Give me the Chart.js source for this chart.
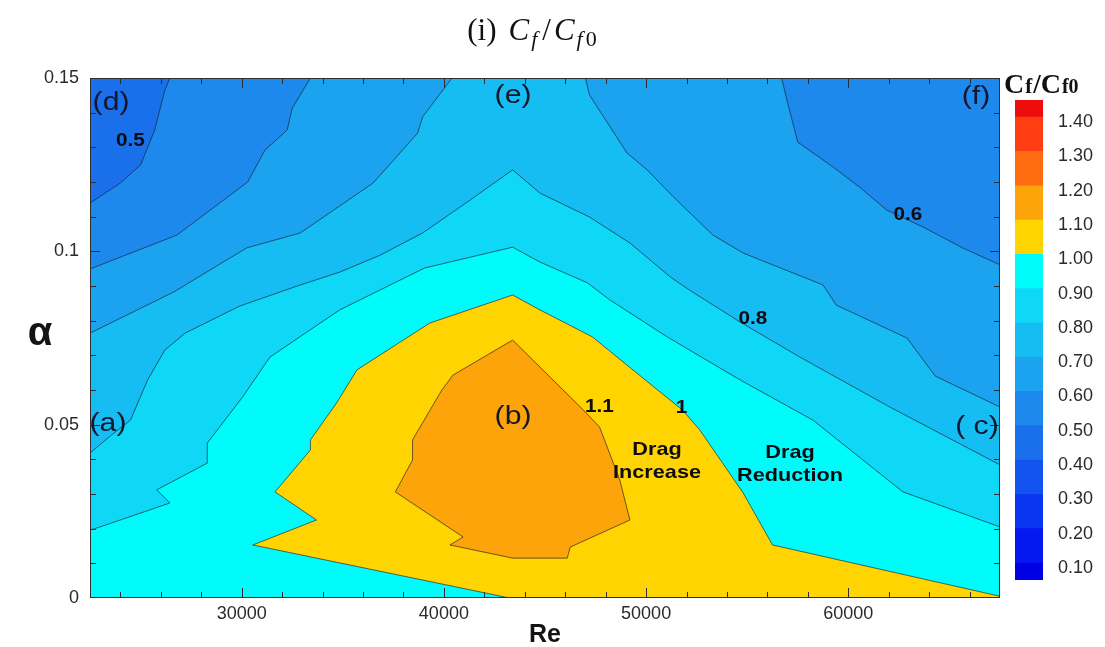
<!DOCTYPE html>
<html>
<head>
<meta charset="utf-8">
<title>Cf/Cf0 contour map</title>
<script src="https://cdn.jsdelivr.net/npm/chart.js@4.4.0/dist/chart.umd.min.js"></script>
<style>
  html, body { margin: 0; padding: 0; background: #fff; }
  #wrap { position: relative; width: 1105px; height: 647px; overflow: hidden; }
  #main { position: absolute; left: 0; top: 0; }
  #cbar { position: absolute; left: 1005px; top: 60px; }
</style>
</head>
<body>
<div id="wrap">
  <canvas id="main" width="1105" height="647"></canvas>
  <canvas id="cbar" width="100" height="540"></canvas>
</div>
<script>
// ---- axes ----
const reRange = [22500, 67500];
const alphaRange = [0, 0.15];
const xMajorTicks = [30000, 40000, 50000, 60000];
const xTickLabels = ['30000', '40000', '50000', '60000'];
const yMajorTicks = [0, 0.05, 0.1, 0.15];
const yTickLabels = ['0', '0.05', '0.1', '0.15'];
const xMinorStep = 2000;
const yMinorStep = 0.01;

// ---- colour levels (legend bands, bottom to top) ----
const bandBounds = [0.05, 0.1, 0.2, 0.3, 0.4, 0.5, 0.6, 0.7, 0.8, 0.9, 1.0, 1.1, 1.2, 1.3, 1.4, 1.45];
const bandColors = ['#0000e4', '#0418ef', '#0a35f1', '#1252ef', '#1a6feb', '#1e89ec', '#1ba3ef',
                    '#15bdf2', '#0fd8f7', '#00fbfb', '#ffd400', '#fda40b', '#ff6c10', '#ff3d12', '#ee0c0c'];
const legendTicks = [0.1, 0.2, 0.3, 0.4, 0.5, 0.6, 0.7, 0.8, 0.9, 1.0, 1.1, 1.2, 1.3, 1.4];

// ---- contour lines (Re, alpha) ----
const c050Re    = [22500, 24000, 25000, 25700, 26200, 26450];
const c050Alpha = [0.1139, 0.1197, 0.1249, 0.1350, 0.1465, 0.15];

const c060LeftRe    = [22500, 26800, 30300, 31150, 32250, 32500, 33400];
const c060LeftAlpha = [0.0949, 0.1047, 0.1200, 0.1292, 0.1350, 0.1413, 0.15];
const c060RightRe    = [56700, 57000, 57500, 59250, 60600, 61900, 63700, 65650, 67500];
const c060RightAlpha = [0.15, 0.1428, 0.1315, 0.1243, 0.1183, 0.1119, 0.1070, 0.1010, 0.0961];

const c070LeftRe    = [22500, 26650, 30250, 32900, 36500, 38700, 38950, 40400];
const c070LeftAlpha = [0.0764, 0.0883, 0.1010, 0.1053, 0.1197, 0.1341, 0.1388, 0.15];
const c070RightRe    = [47000, 47200, 49050, 50050, 51350, 53300, 54800, 58750, 59400, 62900, 64300, 67500];
const c070RightAlpha = [0.15, 0.1451, 0.1284, 0.1235, 0.1157, 0.1047, 0.0995, 0.0903, 0.0845, 0.0750, 0.0640, 0.0551];

const c080Re    = [22500, 23500, 24500, 25350, 26200, 27200, 29900, 32900, 34850, 36850, 38950, 41300, 43400,
                   44750, 47200, 49200, 51200, 52150, 54650, 57600, 62050, 67500];
const c080Alpha = [0.0418, 0.0467, 0.0513, 0.0629, 0.0715, 0.0764, 0.0842, 0.0903, 0.0940, 0.0989, 0.1053, 0.1148, 0.1235,
                   0.1168, 0.1099, 0.1024, 0.0926, 0.0888, 0.0796, 0.0695, 0.0551, 0.0384];

const c090Re    = [22500, 23000, 26450, 25800, 28300, 28300, 30050, 31400, 34850, 39050, 43400,
                   44750, 47100, 48200, 51050, 54650, 58250, 62700, 67500];
const c090Alpha = [0.0196, 0.0205, 0.0274, 0.0312, 0.0389, 0.0447, 0.0580, 0.0695, 0.0831, 0.0952, 0.1012,
                   0.0969, 0.0909, 0.0860, 0.0753, 0.0629, 0.0513, 0.0306, 0.0205];

// 1.0 contour: from the bottom edge, round the drag-increase lobe, out to the right edge
const c100Re    = [43250, 30550, 33700, 31650, 33400, 33400, 34700, 35700, 39300, 43400,
                   44750, 47350, 49050, 51800, 52650, 54800, 56250, 67500];
const c100Alpha = [0, 0.0153, 0.0225, 0.0306, 0.0427, 0.0456, 0.0563, 0.0658, 0.0793, 0.0874,
                   0.0831, 0.0753, 0.0672, 0.0542, 0.0485, 0.0303, 0.0153, 0.0005];

// 1.1 contour: closed loop
const c110Re    = [43400, 46900, 47700, 48700, 49200, 46250, 46100, 43400, 40300, 40950, 37600, 38450, 38450, 39900, 40450, 43400];
const c110Alpha = [0.0744, 0.0542, 0.0493, 0.0340, 0.0225, 0.0147, 0.0115, 0.0115, 0.0153, 0.0176, 0.0306, 0.0398, 0.0456, 0.0600, 0.0643, 0.0744];

// ---- text placed in the field (Re, alpha of the text centre) ----
const caseLabels = [
  { text: '(d)', re: 23540, alpha: 0.1428 },
  { text: '(e)', re: 43420, alpha: 0.1448 },
  { text: '(f)', re: 66310, alpha: 0.1445 },
  { text: '(a)', re: 23390, alpha: 0.0502 },
  { text: '(b)', re: 43420, alpha: 0.0522 },
  { text: '( c)', re: 66360, alpha: 0.0493 }
];
const levelLabels = [
  { text: '0.5', re: 24500, alpha: 0.1317 },
  { text: '0.6', re: 62950, alpha: 0.1106 },
  { text: '0.8', re: 55285, alpha: 0.0806 },
  { text: '1.1', re: 47695, alpha: 0.0552 },
  { text: '1',   re: 51750, alpha: 0.0547 }
];
const regionLabels = [
  { lines: ['Drag', 'Increase'],  re: 50540, alpha: [0.0428, 0.0362] },
  { lines: ['Drag', 'Reduction'], re: 57115, alpha: [0.0418, 0.0353] }
];

// ---------------------------------------------------------------
const SANS = "'Liberation Sans', Arial, Helvetica, sans-serif";
const SERIF = "'Liberation Serif', 'Times New Roman', serif";

const pts = (xs, ys) => xs.map((x, i) => ({ x: x, y: ys[i] }));
const [reMin, reMax] = reRange;
const [aMin, aMax] = alphaRange;
const bottomCorners = [{ x: reMax, y: aMin }, { x: reMin, y: aMin }];
const colorFor = level => bandColors[bandBounds.indexOf(level)];

// filled regions, painted from the lowest level upward
const regions = [
  { level: 0.4, poly: [{ x: reMin, y: aMin }, { x: reMax, y: aMin }, { x: reMax, y: aMax }, { x: reMin, y: aMax }] },
  { level: 0.5, poly: [...pts(c050Re, c050Alpha), { x: reMax, y: aMax }, ...bottomCorners] },
  { level: 0.6, poly: [...pts(c060LeftRe, c060LeftAlpha), ...pts(c060RightRe, c060RightAlpha), ...bottomCorners] },
  { level: 0.7, poly: [...pts(c070LeftRe, c070LeftAlpha), ...pts(c070RightRe, c070RightAlpha), ...bottomCorners] },
  { level: 0.8, poly: [...pts(c080Re, c080Alpha), ...bottomCorners] },
  { level: 0.9, poly: [...pts(c090Re, c090Alpha), ...bottomCorners] },
  { level: 1.0, poly: [...pts(c100Re, c100Alpha), { x: reMax, y: aMin }] },
  { level: 1.1, poly: pts(c110Re, c110Alpha) }
];

const contourLines = [
  pts(c050Re, c050Alpha), pts(c060LeftRe, c060LeftAlpha), pts(c060RightRe, c060RightAlpha),
  pts(c070LeftRe, c070LeftAlpha), pts(c070RightRe, c070RightAlpha), pts(c080Re, c080Alpha),
  pts(c090Re, c090Alpha), pts(c100Re, c100Alpha), pts(c110Re, c110Alpha)
];

const datasets = [];
regions.forEach((r, i) => {
  datasets.push({
    data: r.poly, showLine: true, fill: 'shape', tension: 0,
    backgroundColor: colorFor(r.level), borderWidth: 0, borderColor: 'rgba(0,0,0,0)',
    pointRadius: 0, order: 100 - i
  });
});
contourLines.forEach(line => {
  datasets.push({
    data: line, showLine: true, fill: false, tension: 0,
    borderColor: 'rgba(25,25,45,0.8)', borderWidth: 0.8,
    pointRadius: 0, order: 0
  });
});

// text drawn with a slight horizontal widening, centred on (px, py)
function wideText(ctx, text, px, py, sx) {
  ctx.save();
  ctx.translate(px, py);
  ctx.scale(sx, 1);
  ctx.fillText(text, 0, 0);
  ctx.restore();
}

// inward tick marks on all four sides, the frame and the labels inside the field
const frameTicks = {
  id: 'frameTicks',
  afterDatasetsDraw(chart) {
    const { ctx, chartArea: a, scales: { x, y } } = chart;
    ctx.save();
    ctx.strokeStyle = '#2e2e2e';
    ctx.lineWidth = 1;
    ctx.beginPath();
    const xt = (v, len) => {
      const px = Math.round(x.getPixelForValue(v)) + 0.5;
      ctx.moveTo(px, a.bottom); ctx.lineTo(px, a.bottom - len);
      ctx.moveTo(px, a.top); ctx.lineTo(px, a.top + len);
    };
    const yt = (v, len) => {
      const py = Math.round(y.getPixelForValue(v)) + 0.5;
      ctx.moveTo(a.left, py); ctx.lineTo(a.left + len, py);
      ctx.moveTo(a.right, py); ctx.lineTo(a.right - len, py);
    };
    for (let v = Math.ceil(reMin / xMinorStep) * xMinorStep; v <= reMax; v += xMinorStep) {
      xt(v, xMajorTicks.includes(v) ? 10 : 6);
    }
    for (let k = 1; k < Math.round((aMax - aMin) / yMinorStep); k++) {
      const v = +(aMin + k * yMinorStep).toFixed(4);
      yt(v, yMajorTicks.some(m => Math.abs(m - v) < 1e-9) ? 10 : 6);
    }
    ctx.stroke();
    ctx.strokeRect(a.left + 0.5, a.top + 0.5, a.right - a.left - 1, a.bottom - a.top - 1);

    ctx.textAlign = 'center';
    ctx.textBaseline = 'middle';
    ctx.fillStyle = '#16162c';
    ctx.font = '26px ' + SANS;
    caseLabels.forEach(l => wideText(ctx, l.text, x.getPixelForValue(l.re), y.getPixelForValue(l.alpha), 1.16));
    ctx.fillStyle = '#0c0c12';
    ctx.font = 'bold 18px ' + SANS;
    levelLabels.forEach(l => wideText(ctx, l.text, x.getPixelForValue(l.re), y.getPixelForValue(l.alpha), 1.15));
    ctx.font = 'bold 19px ' + SANS;
    regionLabels.forEach(l => l.lines.forEach((t, i) =>
      wideText(ctx, t, x.getPixelForValue(l.re), y.getPixelForValue(l.alpha[i]), 1.14)));
    ctx.restore();
  }
};

function drawRuns(ctx, runs, x0, baseline, align) {
  let w = 0;
  runs.forEach(r => { ctx.font = r.font; w += ctx.measureText(r.t).width + (r.dx || 0); });
  let x = align === 'center' ? x0 - w / 2 : x0;
  ctx.textAlign = 'left';
  ctx.textBaseline = 'alphabetic';
  runs.forEach(r => {
    ctx.font = r.font;
    x += (r.dx || 0);
    ctx.fillText(r.t, x, baseline + (r.dy || 0));
    x += ctx.measureText(r.t).width;
  });
}

// figure title, axis titles and the legend heading
const headings = {
  id: 'headings',
  afterDraw(chart) {
    const { ctx, chartArea: a } = chart;
    ctx.save();
    ctx.fillStyle = '#111';
    drawRuns(ctx, [
      { t: '(i)', font: '31px ' + SERIF },
      { t: 'C', font: 'italic 31px ' + SERIF, dx: 12 },
      { t: 'f', font: 'italic 22px ' + SERIF, dy: 6, dx: 2 },
      { t: '/', font: '31px ' + SERIF, dx: 5 },
      { t: 'C', font: 'italic 31px ' + SERIF, dx: 3 },
      { t: 'f', font: 'italic 22px ' + SERIF, dy: 6, dx: 2 },
      { t: '0', font: '22px ' + SERIF, dy: 6, dx: 3 }
    ], 532, 40, 'center');

    ctx.fillStyle = '#141414';
    ctx.textAlign = 'center';
    ctx.textBaseline = 'alphabetic';
    ctx.font = 'bold 25px ' + SANS;
    ctx.fillText('Re', (a.left + a.right) / 2, 642);
    ctx.font = 'bold 40px ' + SANS;
    ctx.textBaseline = 'middle';
    ctx.fillText('\u03b1', 40, 334);

    ctx.fillStyle = '#111';
    drawRuns(ctx, [
      { t: 'C', font: 'bold 28px ' + SERIF },
      { t: 'f', font: 'bold 21px ' + SERIF, dx: 1 },
      { t: '/', font: 'bold 27px ' + SERIF, dx: 1 },
      { t: 'C', font: 'bold 28px ' + SERIF },
      { t: 'f0', font: 'bold 20px ' + SERIF, dx: 1 }
    ], 1004, 93, 'left');
    ctx.restore();
  }
};

new Chart(document.getElementById('main'), {
  type: 'scatter',
  data: { datasets },
  options: {
    responsive: false,
    animation: false,
    devicePixelRatio: 1,
    layout: { padding: { left: 0, top: 78, right: 105, bottom: 0 } },
    plugins: { legend: { display: false }, tooltip: { enabled: false } },
    elements: { point: { radius: 0 }, line: { tension: 0 } },
    scales: {
      x: {
        type: 'linear', min: reMin, max: reMax,
        grid: { display: false, drawTicks: false },
        border: { display: false },
        afterFit: s => { s.height = 49; },
        afterBuildTicks: s => { s.ticks = xMajorTicks.map(v => ({ value: v })); },
        ticks: {
          autoSkip: false, maxRotation: 0, padding: 5,
          color: '#2a2a2a', font: { family: SANS, size: 18 },
          callback: v => xTickLabels[xMajorTicks.indexOf(v)]
        }
      },
      y: {
        type: 'linear', min: aMin, max: aMax,
        grid: { display: false, drawTicks: false },
        border: { display: false },
        afterFit: s => { s.width = 90; },
        afterBuildTicks: s => { s.ticks = yMajorTicks.map(v => ({ value: v })); },
        ticks: {
          autoSkip: false, padding: 11,
          color: '#2a2a2a', font: { family: SANS, size: 18 },
          callback: v => yTickLabels[yMajorTicks.findIndex(m => Math.abs(m - v) < 1e-9)]
        }
      }
    }
  },
  plugins: [frameTicks, headings]
});

// colour legend
new Chart(document.getElementById('cbar'), {
  type: 'bar',
  data: {
    labels: [''],
    datasets: bandColors.map((c, i) => ({
      data: [[bandBounds[i], bandBounds[i + 1]]],
      backgroundColor: c, borderWidth: 0,
      barPercentage: 1, categoryPercentage: 1, grouped: false
    }))
  },
  options: {
    responsive: false,
    animation: false,
    devicePixelRatio: 1,
    layout: { padding: { left: 10, top: 40, right: 0, bottom: 20 } },
    plugins: { legend: { display: false }, tooltip: { enabled: false } },
    scales: {
      x: { display: false },
      y: {
        position: 'right', min: bandBounds[0], max: bandBounds[bandBounds.length - 1],
        grid: { display: false, drawTicks: false },
        border: { display: false },
        afterFit: s => { s.width = 62; s.paddingTop = 0; s.paddingBottom = 0; },
        afterBuildTicks: s => { s.ticks = legendTicks.map(v => ({ value: v })); },
        ticks: {
          padding: 15, labelOffset: 5,
          color: '#2a2a2a', font: { family: SANS, size: 18 },
          callback: v => v.toFixed(2)
        }
      }
    }
  }
});
</script>
</body>
</html>
